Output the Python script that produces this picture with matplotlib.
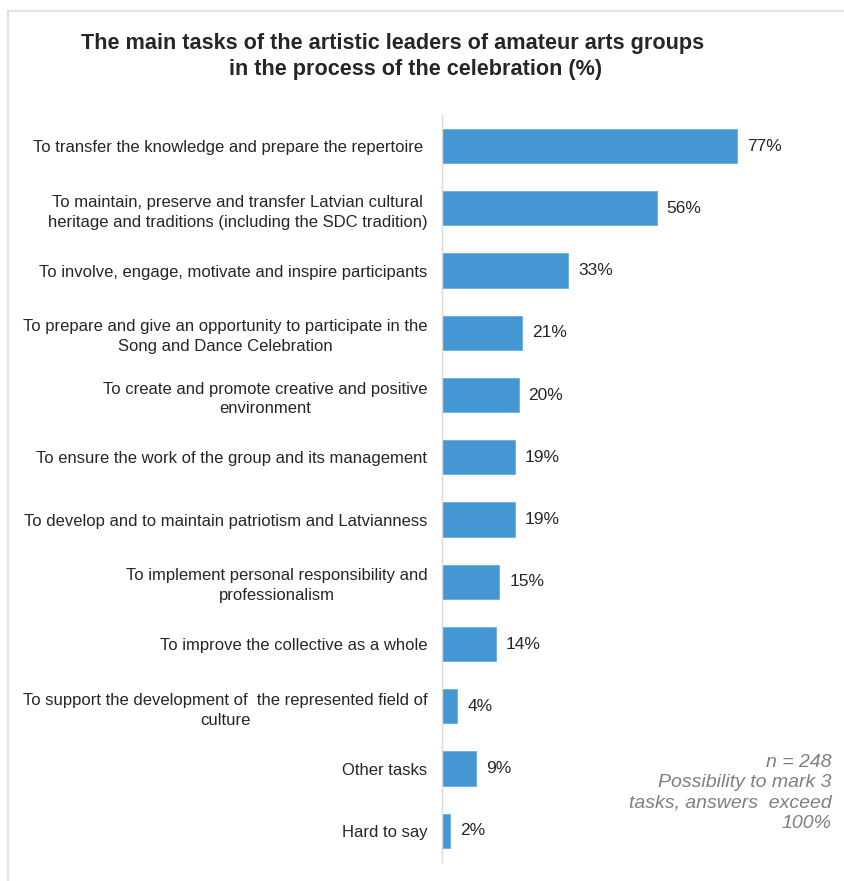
import matplotlib.pyplot as plt
from matplotlib.lines import Line2D

plt.rcParams['font.family'] = ['Liberation Sans', 'DejaVu Sans']

tasks = [
    'To transfer the knowledge and prepare the repertoire ',
    'To maintain, preserve and transfer Latvian cultural\nheritage and traditions (including the SDC tradition)',
    'To involve, engage, motivate and inspire participants',
    'To prepare and give an opportunity to participate in the\nSong and Dance Celebration',
    'To create and promote creative and positive\nenvironment',
    'To ensure the work of the group and its management',
    'To develop and to maintain patriotism and Latvianness',
    'To implement personal responsibility and\nprofessionalism',
    'To improve the collective as a whole',
    'To support the development of  the represented field of\nculture',
    'Other tasks',
    'Hard to say',
]
percent = [77, 56, 33, 21, 20, 19, 19, 15, 14, 4, 9, 2]

title_lines = ['The main tasks of the artistic leaders of amateur arts groups',
               'in the process of the celebration (%)']
note = 'n = 248\nPossibility to mark 3\ntasks, answers  exceed\n100%'

fig = plt.figure(figsize=(8.44, 8.81), dpi=100)
ax = fig.add_axes([0.5237, 0.0216, 0.454, 0.848])

y = range(len(tasks))
ax.barh(y, percent, height=0.55, color='#4597d3', edgecolor='#6aaede', linewidth=0.6)

for yi, v in zip(y, percent):
    ax.text(v + 2.6, yi, f'{v}%', va='center', ha='left', fontsize=12.5, color='#262626')

ax.set_xlim(0, 100)
ax.set_ylim(len(tasks) - 0.5, -0.5)
ax.set_yticks(list(y))
ax.set_yticklabels(tasks, fontsize=12, color='#262626', multialignment='center',
                   linespacing=1.4)
ax.tick_params(axis='y', length=0, pad=10.5)
ax.set_xticks([])
for side in ['top', 'right', 'bottom']:
    ax.spines[side].set_visible(False)
ax.spines['left'].set_color('#d9d9d9')
ax.spines['left'].set_linewidth(1.0)

# two title lines, the second one sits a little to the right
fig.text(393 / 844, 1 - 44 / 881, title_lines[0], ha='center', va='center',
         fontsize=15.6, fontweight='bold', color='#262626')
fig.text(416 / 844, 1 - 70 / 881, title_lines[1], ha='center', va='center',
         fontsize=15.6, fontweight='bold', color='#262626')

fig.text(0.985, 1 - 793 / 881, note, ha='right', va='center', fontsize=14,
         style='italic', color='#7f7f7f', linespacing=1.25)

# light frame along the top and left edges
fig.add_artist(Line2D([0.0095, 1.0], [0.9875, 0.9875], color='#dcdcdc', linewidth=1.2))
fig.add_artist(Line2D([0.0095, 0.0095], [0.0, 0.9875], color='#dcdcdc', linewidth=1.2))

fig.savefig('out.png', dpi=100)
